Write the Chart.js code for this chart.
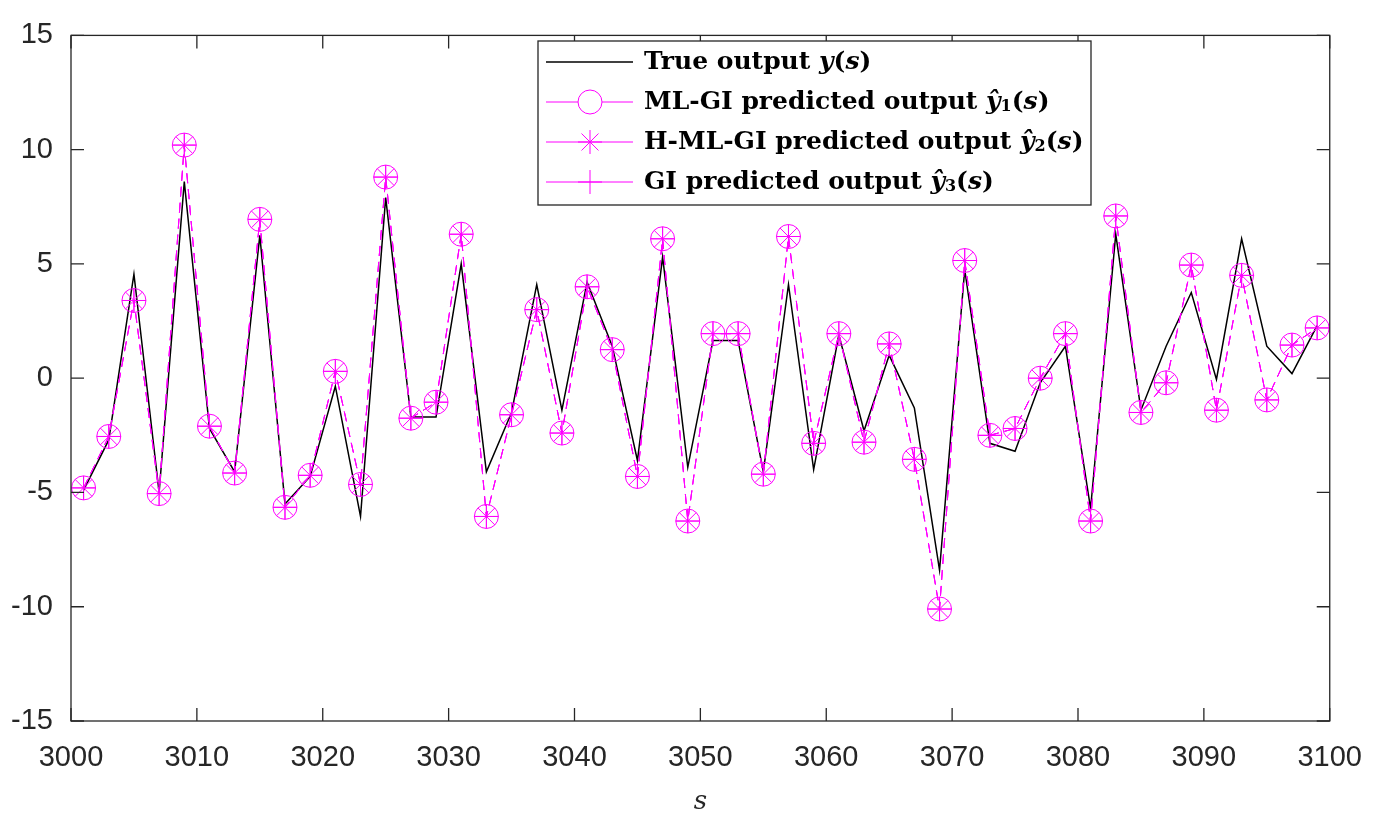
<!DOCTYPE html>
<html>
<head>
<meta charset="utf-8">
<script src="https://cdn.jsdelivr.net/npm/chart.js@4/dist/chart.umd.min.js"></script>
<style>
  body { margin: 0; background: #fff; }
  canvas { display: block; }
</style>
</head>
<body>
<canvas id="myChart" width="1382" height="821"></canvas>
<script>
'use strict'

// sample index s (odd samples only)
var sVals = [3001, 3003, 3005, 3007, 3009, 3011, 3013, 3015, 3017, 3019,
    3021, 3023, 3025, 3027, 3029, 3031, 3033, 3035, 3037, 3039,
    3041, 3043, 3045, 3047, 3049, 3051, 3053, 3055, 3057, 3059,
    3061, 3063, 3065, 3067, 3069, 3071, 3073, 3075, 3077, 3079,
    3081, 3083, 3085, 3087, 3089, 3091, 3093, 3095, 3097, 3099];

// true output y(s)
var trueOut = [-4.9, -2.7, 4.55, -5.0, 8.6, -2.2, -4.1, 6.25, -5.5, -4.3,
    -0.35, -6.05, 7.9, -1.7, -1.7, 5.0, -4.1, -1.5, 4.1, -1.4,
    4.2, 1.4, -3.6, 5.3, -3.9, 1.65, 1.65, -4.1, 4.1, -4.0,
    1.9, -2.3, 1.0, -1.3, -8.4, 4.75, -2.85, -3.2, -0.2, 1.4,
    -5.7, 6.3, -1.4, 1.4, 3.75, -0.05, 6.1, 1.4, 0.2, 2.3];

// ML-GI predicted output
var mlgiOut = [-4.8, -2.55, 3.4, -5.05, 10.2, -2.1, -4.15, 6.95, -5.65, -4.25,
    0.3, -4.65, 8.8, -1.75, -1.05, 6.3, -6.05, -1.6, 3.0, -2.4,
    4.0, 1.25, -4.3, 6.1, -6.25, 1.95, 1.95, -4.2, 6.2, -2.85,
    1.95, -2.8, 1.5, -3.55, -10.1, 5.15, -2.5, -2.2, 0.0, 1.95,
    -6.25, 7.1, -1.5, -0.2, 4.95, -1.4, 4.5, -0.95, 1.45, 2.2];

// H-ML-GI predicted output
var hmlgiOut = [-4.8, -2.55, 3.4, -5.05, 10.2, -2.1, -4.15, 6.95, -5.65, -4.25,
    0.3, -4.65, 8.8, -1.75, -1.05, 6.3, -6.05, -1.6, 3.0, -2.4,
    4.0, 1.25, -4.3, 6.1, -6.25, 1.95, 1.95, -4.2, 6.2, -2.85,
    1.95, -2.8, 1.5, -3.55, -10.1, 5.15, -2.5, -2.2, 0.0, 1.95,
    -6.25, 7.1, -1.5, -0.2, 4.95, -1.4, 4.5, -0.95, 1.45, 2.2];

// GI predicted output
var giOut = [-4.8, -2.55, 3.4, -5.05, 10.2, -2.1, -4.15, 6.95, -5.65, -4.25,
    0.3, -4.65, 8.8, -1.75, -1.05, 6.3, -6.05, -1.6, 3.0, -2.4,
    4.0, 1.25, -4.3, 6.1, -6.25, 1.95, 1.95, -4.2, 6.2, -2.85,
    1.95, -2.8, 1.5, -3.55, -10.1, 5.15, -2.5, -2.2, 0.0, 1.95,
    -6.25, 7.1, -1.5, -0.2, 4.95, -1.4, 4.5, -0.95, 1.45, 2.2];

var xTicks = [3000, 3010, 3020, 3030, 3040, 3050, 3060, 3070, 3080, 3090, 3100];
var yTicks = [-15, -10, -5, 0, 5, 10, 15];

var MAGENTA = '#f0f';
var AXIS = '#262626';

function pts(arr) {
    return sVals.map(function (s, i) { return {x: s, y: arr[i]}; });
}

// box + inward ticks like the original figure
var framePlugin = {
    id: 'frame',
    afterDatasetsDraw: function (chart) {
        var ctx = chart.ctx;
        var a = chart.chartArea;
        var xs = chart.scales.x, ys = chart.scales.y;
        var tl = 13;
        ctx.save();
        ctx.strokeStyle = AXIS;
        ctx.lineWidth = 1.3;
        ctx.strokeRect(a.left, a.top, a.right - a.left, a.bottom - a.top);
        ctx.beginPath();
        xTicks.forEach(function (v) {
            var px = xs.getPixelForValue(v);
            ctx.moveTo(px, a.bottom); ctx.lineTo(px, a.bottom - tl);
            ctx.moveTo(px, a.top); ctx.lineTo(px, a.top + tl);
        });
        yTicks.forEach(function (v) {
            var py = ys.getPixelForValue(v);
            ctx.moveTo(a.left, py); ctx.lineTo(a.left + tl, py);
            ctx.moveTo(a.right, py); ctx.lineTo(a.right - tl, py);
        });
        ctx.stroke();
        ctx.restore();
    }
};

function drawParts(ctx, x, y, parts) {
    parts.forEach(function (p) {
        ctx.font = p.f;
        ctx.fillText(p.t, x, y + (p.dy || 0));
        x += ctx.measureText(p.t).width;
    });
}

var legendPlugin = {
    id: 'texLegend',
    afterDraw: function (chart) {
        var ctx = chart.ctx;
        var bx = 538, by = 41, bw = 553, bh = 164;
        var bold = 'bold 25px "DejaVu Serif"';
        var math = 'italic bold 25px "DejaVu Serif"';
        var up = 'bold 25px "DejaVu Serif"';
        var sub = 'bold 16px "DejaVu Serif"';
        ctx.save();
        ctx.fillStyle = '#fff';
        ctx.fillRect(bx, by, bw, bh);
        ctx.strokeStyle = AXIS;
        ctx.lineWidth = 1.3;
        ctx.strokeRect(bx, by, bw, bh);

        var rows = [
            {color: '#000', marker: null, parts: [{t: 'True output ', f: bold}, {t: 'y', f: math}, {t: '(', f: up}, {t: 's', f: math}, {t: ')', f: up}]},
            {color: MAGENTA, marker: 'circle', parts: [{t: 'ML-GI predicted output ', f: bold}, {t: 'ŷ', f: math}, {t: '1', f: sub, dy: 5}, {t: '(', f: up}, {t: 's', f: math}, {t: ')', f: up}]},
            {color: MAGENTA, marker: 'star', parts: [{t: 'H-ML-GI predicted output ', f: bold}, {t: 'ŷ', f: math}, {t: '2', f: sub, dy: 5}, {t: '(', f: up}, {t: 's', f: math}, {t: ')', f: up}]},
            {color: MAGENTA, marker: 'cross', parts: [{t: 'GI predicted output ', f: bold}, {t: 'ŷ', f: math}, {t: '3', f: sub, dy: 5}, {t: '(', f: up}, {t: 's', f: math}, {t: ')', f: up}]}
        ];
        rows.forEach(function (r, i) {
            var y = 62 + i * 40;
            ctx.strokeStyle = r.color;
            ctx.lineWidth = r.marker ? 1 : 1.5;
            ctx.beginPath();
            ctx.moveTo(546, y); ctx.lineTo(633, y);
            ctx.stroke();
            if (r.marker) {
                ctx.fillStyle = 'rgba(255,255,255,1)';
                ctx.strokeStyle = MAGENTA;
                ctx.lineWidth = 1;
                Chart.helpers.drawPoint(ctx, {pointStyle: r.marker, radius: 12, borderWidth: 1}, 590, y);
            }
            ctx.fillStyle = '#000';
            ctx.textBaseline = 'middle';
            ctx.textAlign = 'left';
            drawParts(ctx, 644, y, r.parts);
        });
        ctx.restore();
    }
};

var predStyle = function (label, arr, style) {
    return {
        label: label,
        data: pts(arr),
        borderColor: MAGENTA,
        backgroundColor: 'rgba(0,0,0,0)',
        borderWidth: 1,
        borderDash: [10, 6],
        pointStyle: style,
        pointRadius: 12,
        pointBorderWidth: 1,
        pointBorderColor: MAGENTA,
        pointBackgroundColor: 'rgba(0,0,0,0)',
        tension: 0,
        order: 1
    };
};

var ctx = document.getElementById('myChart').getContext('2d');

var chart = new Chart(ctx, {
    type: 'line',
    data: {
        datasets: [
            {
                label: 'True output y(s)',
                data: pts(trueOut),
                borderColor: '#000',
                borderWidth: 1.5,
                pointRadius: 0,
                tension: 0,
                order: 4
            },
            predStyle('ML-GI predicted output', mlgiOut, 'circle'),
            predStyle('H-ML-GI predicted output', hmlgiOut, 'star'),
            predStyle('GI predicted output', giOut, 'cross')
        ]
    },
    plugins: [framePlugin, legendPlugin],
    options: {
        responsive: false,
        animation: false,
        layout: {padding: {top: 23, right: 52, left: 0, bottom: 0}},
        plugins: {
            legend: {display: false},
            tooltip: {enabled: false}
        },
        scales: {
            x: {
                type: 'linear',
                min: 3000,
                max: 3100,
                afterBuildTicks: function (s) { s.ticks = xTicks.map(function (v) { return {value: v}; }); },
                afterFit: function (s) { s.height = 100; },
                grid: {display: false, drawTicks: false},
                border: {display: false},
                ticks: {
                    padding: 20,
                    color: AXIS,
                    maxRotation: 0,
                    font: {family: '"Liberation Sans"', size: 29},
                    callback: function (v) { return String(v); }
                },
                title: {
                    display: true,
                    text: 's',
                    color: AXIS,
                    font: {family: '"DejaVu Serif"', style: 'italic', size: 26},
                    padding: {top: 0, bottom: 3}
                }
            },
            y: {
                min: -15,
                max: 15,
                afterBuildTicks: function (s) { s.ticks = yTicks.map(function (v) { return {value: v}; }); },
                afterFit: function (s) { s.width = 71; },
                grid: {display: false, drawTicks: false},
                border: {display: false},
                ticks: {
                    padding: 18,
                    color: AXIS,
                    font: {family: '"Liberation Sans"', size: 29},
                    callback: function (v) { return String(v); }
                }
            }
        }
    }
});
</script>
</body>
</html>
